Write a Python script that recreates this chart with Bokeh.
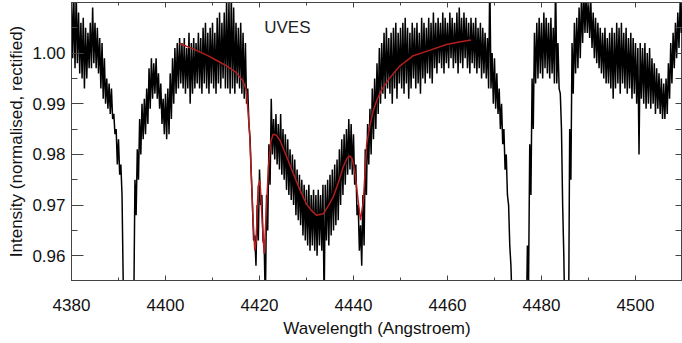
from bokeh.plotting import figure
from bokeh.models import Range1d, LinearAxis, FixedTicker, PrintfTickFormatter, CustomJSTickFormatter
from bokeh.core.properties import value
from bokeh.embed import file_html
from bokeh.resources import INLINE

# ---- data (noise band: upper / lower envelope every 0.5 A) ----
wave_start = 4380.0
wave_step = 0.5
flux_upper = [
    1.012, 1.011, 1.012, 1.008, 1.006, 1.007, 1.005, 1.004, 1.006, 1.009,
    1.006, 1.005, 1.003, 1.002, 0.999, 0.995, 0.994, 0.993, 0.988, 0.985,
    0.983, 0.978, 0.955, 0.950, 0.945, 0.945, 0.955, 0.975, 0.981, 0.987,
    0.990, 0.991, 0.993, 0.997, 0.999, 0.998, 0.999, 0.996, 0.994, 0.991,
    0.992, 0.993, 0.996, 0.999, 1.001, 1.002, 1.003, 1.002, 1.003, 1.001,
    1.004, 1.002, 1.003, 1.002, 1.004, 1.003, 1.005, 1.006, 1.004, 1.005,
    1.006, 1.004, 1.007, 1.008, 1.006, 1.008, 1.011, 1.010, 1.012, 1.009,
    1.006, 1.005, 1.006, 1.004, 1.002, 0.993, 0.983, 0.970, 0.964, 0.970,
    0.977, 0.972, 0.962, 0.972, 0.982, 0.991, 0.987, 0.988, 0.986, 0.988,
    0.985, 0.984, 0.983, 0.981, 0.980, 0.979, 0.977, 0.976, 0.975, 0.974,
    0.973, 0.974, 0.972, 0.973, 0.972, 0.973, 0.972, 0.974, 0.974, 0.975,
    0.976, 0.977, 0.978, 0.979, 0.981, 0.983, 0.984, 0.985, 0.987, 0.986,
    0.984, 0.978, 0.970, 0.966, 0.972, 0.981, 0.986, 0.989, 0.993, 0.995,
    0.998, 1.001, 1.002, 1.004, 1.005, 1.003, 1.004, 1.005, 1.006, 1.004,
    1.005, 1.006, 1.007, 1.005, 1.004, 1.006, 1.005, 1.006, 1.004, 1.007,
    1.006, 1.005, 1.007, 1.006, 1.008, 1.006, 1.007, 1.006, 1.008, 1.007,
    1.006, 1.008, 1.007, 1.006, 1.008, 1.009, 1.007, 1.008, 1.007, 1.006,
    1.007, 1.006, 1.007, 1.005, 1.006, 1.005, 1.004, 1.003, 1.015, 1.000,
    0.999, 0.996, 0.993, 0.990, 0.985, 0.980, 0.970, 0.958, 0.945, 0.940,
    0.940, 0.940, 0.945, 0.950, 0.962, 0.982, 0.995, 1.004, 1.006, 1.007,
    1.006, 1.008, 1.007, 1.006, 1.007, 1.005, 1.015, 1.002, 0.992, 0.970,
    0.945, 0.955, 0.985, 1.002, 1.006, 1.007, 1.009, 1.011, 1.012, 1.012,
    1.011, 1.010, 1.008, 1.007, 1.006, 1.005, 1.004, 1.005, 1.003, 1.004,
    1.005, 1.004, 1.006, 1.005, 1.006, 1.004, 1.005, 1.003, 1.004, 1.003,
    1.002, 1.001, 1.002, 1.001, 1.002, 1.000, 1.001, 0.999, 0.998, 0.997,
    0.996, 0.995, 0.994, 0.995, 0.998, 1.002, 1.004, 1.006, 1.008, 1.010,
    1.011,
]
flux_lower = [
    0.999, 0.997, 0.998, 0.996, 0.995, 0.993, 0.995, 0.997, 0.997, 0.998,
    0.997, 0.996, 0.993, 0.991, 0.990, 0.989, 0.988, 0.987, 0.984, 0.978,
    0.976, 0.972, 0.950, 0.945, 0.940, 0.940, 0.950, 0.968, 0.975, 0.980,
    0.983, 0.984, 0.986, 0.989, 0.991, 0.992, 0.991, 0.989, 0.986, 0.984,
    0.983, 0.984, 0.987, 0.990, 0.992, 0.993, 0.994, 0.993, 0.992, 0.993,
    0.990, 0.992, 0.993, 0.994, 0.993, 0.992, 0.994, 0.993, 0.992, 0.994,
    0.993, 0.992, 0.994, 0.993, 0.995, 0.993, 0.993, 0.992, 0.993, 0.992,
    0.994, 0.993, 0.992, 0.991, 0.990, 0.986, 0.976, 0.963, 0.958, 0.963,
    0.970, 0.963, 0.950, 0.965, 0.974, 0.980, 0.979, 0.978, 0.977, 0.976,
    0.975, 0.973, 0.972, 0.971, 0.970, 0.968, 0.967, 0.966, 0.964, 0.963,
    0.962, 0.961, 0.962, 0.961, 0.960, 0.962, 0.961, 0.950, 0.963, 0.962,
    0.964, 0.965, 0.966, 0.967, 0.970, 0.972, 0.974, 0.976, 0.977, 0.976,
    0.974, 0.968, 0.961, 0.958, 0.962, 0.972, 0.978, 0.980, 0.983, 0.985,
    0.988, 0.990, 0.992, 0.991, 0.993, 0.992, 0.990, 0.993, 0.991, 0.994,
    0.993, 0.992, 0.994, 0.991, 0.993, 0.995, 0.993, 0.994, 0.992, 0.995,
    0.994, 0.996, 0.995, 0.994, 0.997, 0.996, 0.998, 0.997, 0.996, 0.998,
    0.997, 0.999, 0.997, 0.998, 0.996, 0.998, 0.997, 0.999, 0.997, 0.996,
    0.998, 0.997, 0.996, 0.997, 0.995, 0.996, 0.995, 0.993, 0.993, 0.990,
    0.989, 0.988, 0.985, 0.982, 0.977, 0.972, 0.962, 0.950, 0.940, 0.940,
    0.940, 0.940, 0.940, 0.945, 0.955, 0.972, 0.985, 0.994, 0.995, 0.996,
    0.995, 0.997, 0.996, 0.995, 0.996, 0.994, 0.994, 0.993, 0.985, 0.960,
    0.940, 0.945, 0.975, 0.992, 0.996, 0.997, 0.999, 1.002, 1.004, 1.004,
    1.003, 1.001, 0.999, 0.998, 0.997, 0.996, 0.995, 0.994, 0.994, 0.993,
    0.991, 0.993, 0.994, 0.992, 0.994, 0.993, 0.992, 0.993, 0.991, 0.992,
    0.990, 0.980, 0.991, 0.990, 0.989, 0.990, 0.989, 0.990, 0.988, 0.989,
    0.988, 0.987, 0.987, 0.988, 0.991, 0.994, 0.997, 0.999, 1.001, 1.004,
    1.005,
]

model_wave = [
    4403.0, 4406.0, 4409.0, 4411.0, 4413.0, 4415.0, 4416.5, 4417.2, 4417.6, 4417.9,
    4418.3, 4418.6, 4419.0, 4419.3, 4419.7, 4420.1, 4420.5, 4421.0, 4421.4, 4421.9,
    4422.4, 4422.9, 4423.6, 4424.4, 4425.8, 4427.2, 4428.6, 4430.0, 4431.0, 4432.1,
    4433.6, 4434.6, 4435.7, 4436.8, 4437.8, 4438.6, 4439.2, 4439.7, 4440.3, 4441.0,
    4441.5, 4442.1, 4442.8, 4443.5, 4444.2, 4445.0, 4446.0, 4447.8, 4449.9, 4452.7,
    4456.3, 4459.8, 4462.5, 4465.0,
]
model_flux = [
    1.0019, 1.0008, 0.9995, 0.9985, 0.9975, 0.9962, 0.9945, 0.9926, 0.9880, 0.9840,
    0.9750, 0.9676, 0.9610, 0.9630, 0.9736, 0.9749, 0.9680, 0.9604, 0.9680, 0.9775,
    0.9825, 0.9840, 0.9838, 0.9827, 0.9795, 0.9762, 0.9730, 0.9702, 0.9690, 0.9680,
    0.9683, 0.9698, 0.9716, 0.9745, 0.9775, 0.9792, 0.9797, 0.9792, 0.9765, 0.9708,
    0.9670, 0.9708, 0.9820, 0.9857, 0.9886, 0.9908, 0.9928, 0.9952, 0.9975, 0.9995,
    1.0006, 1.0017, 1.0022, 1.0026,
]

x_major = [4380, 4400, 4420, 4440, 4460, 4480, 4500]
x_minor = [4390, 4410, 4430, 4450, 4470, 4490]
y_major = [0.96, 0.97, 0.98, 0.99, 1.00]
y_minor = [0.955, 0.965, 0.975, 0.985, 0.995, 1.005]
y_all = [0.955, 0.96, 0.965, 0.97, 0.975, 0.98, 0.985, 0.99, 0.995, 1.00, 1.005]

label_text = "UVES"
x_title = "Wavelength (Angstroem)"
y_title = "Intensity (normalised, rectified)"

# spectrum drawn as a zig-zag through the noise band (upper, lower, upper, ...)
line_x, line_y = [], []
for i, (u, l) in enumerate(zip(flux_upper, flux_lower)):
    line_x += [wave_start + wave_step * i, wave_start + wave_step * (i + 0.5)]
    line_y += [u, l]

# ---- figure ----
FONT = "Liberation Sans"
AX = "#444444"

p = figure(width=682, height=343, output_backend="svg", toolbar_location=None,
           x_range=Range1d(4380, 4510), y_range=Range1d(0.9551, 1.0100),
           x_axis_type=None, y_axis_type=None,
           min_border_left=71, min_border_right=0, min_border_top=2,
           min_border_bottom=63)
p.grid.visible = False
p.outline_line_color = AX
p.outline_line_width = 1
p.background_fill_color = "white"
p.border_fill_color = "white"


def style(ax, tin, mtin, labels=True):
    ax.axis_line_color = AX
    ax.major_tick_line_color = AX
    ax.minor_tick_line_color = AX
    ax.major_tick_in = tin
    ax.major_tick_out = 0
    ax.minor_tick_in = mtin
    ax.minor_tick_out = 0
    if labels:
        ax.major_label_text_font = FONT
        ax.major_label_text_font_size = "17px"
        ax.major_label_text_color = "#111111"
        ax.axis_label_text_font = FONT
        ax.axis_label_text_font_size = "17px"
        ax.axis_label_text_font_style = "normal"
        ax.axis_label_text_color = "#111111"
    else:
        ax.formatter = CustomJSTickFormatter(code="return ''")
        ax.major_label_text_font_size = "0px"
        ax.major_label_standoff = 0
        ax.major_label_text_color = None


xb = LinearAxis(ticker=FixedTicker(ticks=x_major, minor_ticks=x_minor),
                axis_label=x_title)
style(xb, 5, 3)
xb.major_label_standoff = 18
xb.axis_label_standoff = 5
p.add_layout(xb, "below")

xt = LinearAxis(ticker=FixedTicker(ticks=x_major, minor_ticks=x_minor))
style(xt, 5, 3, labels=False)
p.add_layout(xt, "above")

yl = LinearAxis(ticker=FixedTicker(ticks=y_major, minor_ticks=y_minor),
                axis_label=y_title, formatter=PrintfTickFormatter(format="%.2f"))
style(yl, 12, 6)
yl.major_label_standoff = 6
yl.axis_label_standoff = 3
p.add_layout(yl, "left")

yr = LinearAxis(ticker=FixedTicker(ticks=y_all, minor_ticks=[]))
style(yr, 7, 0, labels=False)
p.add_layout(yr, "right")

p.line(line_x, line_y, line_color="black", line_width=1.5)
p.line(model_wave, model_flux, line_color="#b41e1e", line_width=1.5)

p.text(x=[4421.0], y=[1.0050], text=[label_text], text_font=value(FONT),
       text_font_size="17px", text_color="#222222", text_baseline="alphabetic",
       text_align="left")

open("out.html", "w").write(file_html(p, INLINE))
